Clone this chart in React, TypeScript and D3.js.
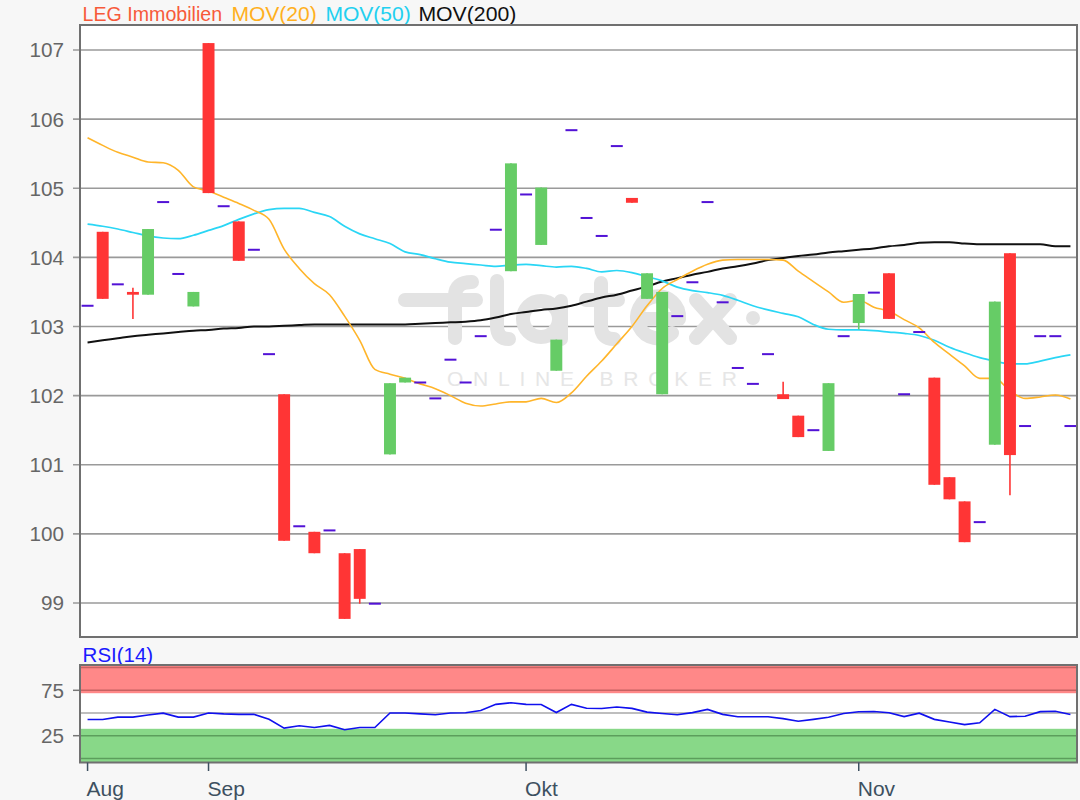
import React from "react";
import * as d3 from "d3";

// ---- data ----
const opens = [103.30,104.37,103.61,103.50,103.46,104.80,103.76,103.29,107.10,104.74,104.52,104.11,102.60,102.02,100.11,100.03,100.05,99.72,99.78,98.99,101.15,102.19,102.19,101.96,102.52,102.19,102.86,104.40,103.80,104.91,104.18,102.36,105.84,104.57,104.31,105.61,104.86,103.40,102.02,103.15,103.64,104.80,103.35,102.40,102.17,102.60,102.02,101.71,101.50,101.20,102.86,103.05,103.49,103.77,102.02,102.92,102.26,100.82,100.47,100.17,101.29,104.06,101.56,102.86,102.86,101.56];
const closes = [103.30,103.40,103.61,103.46,104.41,104.80,103.76,103.50,104.93,104.74,103.95,104.11,102.60,99.90,100.11,99.72,100.05,98.77,99.06,98.99,102.18,102.26,102.19,101.96,102.52,102.19,102.86,104.40,105.36,104.91,105.01,102.81,105.84,104.57,104.31,105.61,104.79,103.77,103.50,103.15,103.64,104.80,103.35,102.40,102.17,102.60,101.95,101.40,101.50,102.18,102.86,103.47,103.49,103.11,102.02,102.92,100.71,100.50,99.88,100.17,103.36,101.14,101.56,102.86,102.86,101.56];
const highs = [103.30,104.37,103.61,103.56,104.41,104.80,103.76,103.50,107.10,104.74,104.52,104.11,102.60,102.02,100.11,100.03,100.05,99.72,99.78,98.99,102.18,102.26,102.19,101.96,102.52,102.19,102.86,104.40,105.36,104.91,105.01,102.81,105.84,104.57,104.31,105.61,104.86,103.77,103.50,103.15,103.64,104.80,103.35,102.40,102.17,102.60,102.20,101.71,101.50,102.18,102.86,103.47,103.49,103.77,102.02,102.92,102.26,100.82,100.47,100.17,103.36,104.06,101.56,102.86,102.86,101.56];
const lows = [103.30,103.40,103.61,103.11,103.46,104.80,103.76,103.29,104.93,104.74,103.95,104.11,102.60,99.90,100.11,99.72,100.05,98.77,98.99,98.99,101.15,102.19,102.19,101.96,102.52,102.19,102.86,104.40,103.80,104.91,104.18,102.36,105.84,104.57,104.31,105.61,104.79,103.40,102.02,103.15,103.64,104.80,103.35,102.40,102.17,102.60,101.95,101.40,101.50,101.20,102.86,102.96,103.49,103.11,102.02,102.92,100.71,100.50,99.88,100.17,101.29,100.56,101.56,102.86,102.86,101.56];

const ma20 = [105.73,105.62,105.52,105.45,105.38,105.37,105.26,105.02,104.96,104.87,104.78,104.68,104.55,104.12,103.84,103.62,103.46,103.15,102.80,102.38,102.31,102.25,102.17,102.10,102.00,101.89,101.85,101.88,101.91,101.91,101.96,101.90,102.04,102.28,102.50,102.75,103.00,103.30,103.55,103.68,103.80,103.90,103.96,103.97,103.97,103.97,103.96,103.80,103.65,103.50,103.35,103.38,103.28,103.22,103.10,102.98,102.77,102.60,102.43,102.25,102.25,102.07,101.96,101.98,102.01,101.95];
const ma50 = [104.48,104.45,104.41,104.36,104.31,104.28,104.27,104.32,104.39,104.46,104.55,104.63,104.69,104.71,104.71,104.65,104.59,104.45,104.34,104.27,104.20,104.08,104.04,103.98,103.93,103.91,103.89,103.87,103.89,103.90,103.88,103.86,103.87,103.84,103.79,103.81,103.78,103.72,103.66,103.57,103.52,103.49,103.45,103.38,103.30,103.24,103.19,103.14,103.03,102.96,102.95,102.95,102.94,102.92,102.90,102.87,102.80,102.70,102.62,102.55,102.50,102.46,102.46,102.50,102.55,102.59];
const ma200 = [102.77,102.80,102.83,102.86,102.88,102.90,102.92,102.94,102.95,102.97,102.98,103.00,103.00,103.01,103.02,103.03,103.03,103.03,103.03,103.03,103.03,103.03,103.04,103.05,103.06,103.07,103.09,103.13,103.18,103.21,103.24,103.26,103.30,103.36,103.42,103.46,103.52,103.58,103.65,103.70,103.75,103.79,103.84,103.87,103.91,103.96,103.99,104.02,104.04,104.07,104.09,104.11,104.13,104.16,104.18,104.21,104.22,104.22,104.20,104.19,104.19,104.19,104.19,104.19,104.16,104.16];
const rsi = [42.8,42.8,45.5,45.5,47.8,49.8,45.5,45.5,50.0,49.0,48.5,48.5,43.0,33.4,36.0,34.0,36.3,31.5,34.0,34.0,50.0,50.0,49.0,48.1,50.0,50.2,52.8,59.5,61.3,59.5,59.3,50.5,59.5,55.3,55.0,56.6,55.1,51.0,49.5,48.1,50.4,54.0,48.5,45.8,45.8,45.8,43.8,40.9,43.0,45.3,49.5,51.3,51.7,50.2,46.0,49.8,43.0,40.0,37.2,39.2,54.0,46.0,46.5,51.5,51.9,48.3];

const monthLabels = ["Aug", "Sep", "Okt", "Nov"];
const monthTickIndex = [0, 8, 29, 51];
const priceTicks = [99, 100, 101, 102, 103, 104, 105, 106, 107];
const rsiTicks = [25, 75];

const FONT = "'Liberation Sans', Arial, sans-serif";

export default function App() {
  const W = 1080, H = 800;
  const pL = 80, pR = 1077, pT = 25, pB = 637;
  const rT = 665, rB = 762.5;

  const n = opens.length;
  const x = d3.scaleBand<number>().domain(d3.range(n)).range([80, 1078]).padding(0);
  const cx = (i: number) => (x(i) as number) + x.bandwidth() / 2;
  const bw = x.step() * 0.79;

  const y = d3.scaleLinear().domain([99, 107]).range([603, 50]);
  const ry = d3.scaleLinear().domain([0, 100]).range([758.4, 667.6]);

  const lineP = (arr: number[]) =>
    d3.line<number>().x((_, i) => cx(i)).y((d) => y(d)).curve(d3.curveMonotoneX)(arr) || "";
  const rsiLine = d3.line<number>().x((_, i) => cx(i)).y((d) => ry(d))(rsi) || "";

  const wm = "#e3e3e3";
  const FS = 20.7;

  return (
    <div style={{ position: "absolute", left: 0, top: 0 }}>
      <svg width={W} height={H} style={{ display: "block" }} fontFamily={FONT}>
        <rect x={0} y={0} width={W} height={H} fill="#f7f7f7" />

        {/* Title */}
        <text x={82.6} y={21} fontSize={20} fill="#f75a3a" textLength={139.5} lengthAdjust="spacingAndGlyphs">LEG Immobilien</text>
        <text x={231.4} y={21} fontSize={20.8} fill="#ffb01e" textLength={85.4} lengthAdjust="spacingAndGlyphs">MOV(20)</text>
        <text x={325.4} y={21} fontSize={20.8} fill="#22d0f0" textLength={85.4} lengthAdjust="spacingAndGlyphs">MOV(50)</text>
        <text x={418.4} y={21} fontSize={20.8} fill="#111" textLength={98} lengthAdjust="spacingAndGlyphs">MOV(200)</text>

        {/* main plot */}
        <rect x={pL} y={pT} width={pR - pL} height={pB - pT} fill="#fff" />
        {priceTicks.map((t) => (
          <g key={t}>
            <line x1={73} x2={pR} y1={y(t)} y2={y(t)} stroke="#9a9a9a" strokeWidth={1.6} />
            <text x={64} y={y(t)} dy="0.36em" textAnchor="end" fontSize={FS} fill="#666">{t}</text>
          </g>
        ))}

        {/* watermark */}
        <g stroke={wm} strokeWidth={14} strokeLinecap="round" strokeLinejoin="round" fill="none">
          <path d="M455,338 L455,296 Q455,282 472,282" />
          <path d="M405,300 L476,300" />
          <path d="M497,281 L497,326 Q497,339 509,339" />
          <circle cx={541} cy={319} r={18} />
          <path d="M561,301 L561,339" />
          <path d="M601,283 L601,326 Q601,339 614,339" />
          <path d="M586,300 L618,300" />
          <path d="M637,319 L679,319 A21,21 0 1 0 672,333" />
          <path d="M696,300 L730,338 M730,300 L696,338" />
        </g>
        <circle cx={753} cy={318} r={7} fill={wm} />
        <text x={447} y={386} fontSize={21} fill="#e6e6e6" textLength={290} lengthAdjust="spacing">ONLINE BROKER</text>

        {/* moving averages */}
        <path d={lineP(ma200)} fill="none" stroke="#111" strokeWidth={2} />
        <path d={lineP(ma50)} fill="none" stroke="#2ad6f5" strokeWidth={1.7} />
        <path d={lineP(ma20)} fill="none" stroke="#ffb52a" strokeWidth={1.6} />

        {/* candles */}
        {opens.map((o, i) => {
          const c = closes[i];
          const xc = cx(i);
          if (o === c) {
            return (
              <rect key={i} x={xc - bw / 2} y={y(o) - 1} width={bw} height={2} fill="#5212d6" />
            );
          }
          const col = c > o ? "#66cc66" : "#ff3535";
          const top = y(Math.max(o, c));
          const bot = y(Math.min(o, c));
          return (
            <g key={i}>
              <line x1={xc} x2={xc} y1={y(highs[i])} y2={y(lows[i])} stroke={col} strokeWidth={1.6} />
              <rect x={xc - bw / 2} y={top} width={bw} height={Math.max(2, bot - top)} fill={col} />
            </g>
          );
        })}

        <rect x={pL} y={pT} width={pR - pL} height={pB - pT} fill="none" stroke="#707070" strokeWidth={2} />

        {/* RSI panel */}
        <text x={82.6} y={662} fontSize={FS} fill="#1a1aff" textLength={70.6} lengthAdjust="spacingAndGlyphs">RSI(14)</text>
        <rect x={pL} y={rT} width={pR - pL} height={rB - rT} fill="#fff" />
        <rect x={pL} y={rT} width={pR - pL} height={ry(71.8) - rT} fill="#ff8888" />
        <rect x={pL} y={ry(32.6)} width={pR - pL} height={rB - ry(32.6)} fill="#88d888" />
        <line x1={pL} x2={pR} y1={ry(100)} y2={ry(100)} stroke="#c86262" strokeWidth={1.5} />
        <line x1={pL} x2={pR} y1={ry(75)} y2={ry(75)} stroke="#c86262" strokeWidth={1.5} />
        <line x1={pL} x2={pR} y1={ry(50)} y2={ry(50)} stroke="#a8a8a8" strokeWidth={1.5} />
        <line x1={pL} x2={pR} y1={ry(25)} y2={ry(25)} stroke="#5c9e5c" strokeWidth={1.5} />
        <line x1={pL} x2={pR} y1={ry(0)} y2={ry(0)} stroke="#5c9e5c" strokeWidth={1.5} />
        {rsiTicks.map((t) => (
          <g key={t}>
            <line x1={73} x2={pL} y1={ry(t)} y2={ry(t)} stroke="#777" strokeWidth={1.5} />
            <text x={64} y={ry(t)} dy="0.36em" textAnchor="end" fontSize={FS} fill="#666">{t}</text>
          </g>
        ))}
        <path d={rsiLine} fill="none" stroke="#1010ee" strokeWidth={1.6} />
        <rect x={pL} y={rT} width={pR - pL} height={rB - rT} fill="none" stroke="#707070" strokeWidth={2} />

        {/* x axis */}
        {monthTickIndex.map((mi, k) => (
          <g key={k}>
            <line x1={cx(mi)} x2={cx(mi)} y1={rB} y2={771} stroke="#3d5060" strokeWidth={1.5} />
            <text x={cx(mi) - 1} y={796} fontSize={21} fill="#3d5060">{monthLabels[k]}</text>
          </g>
        ))}
      </svg>
    </div>
  );
}
